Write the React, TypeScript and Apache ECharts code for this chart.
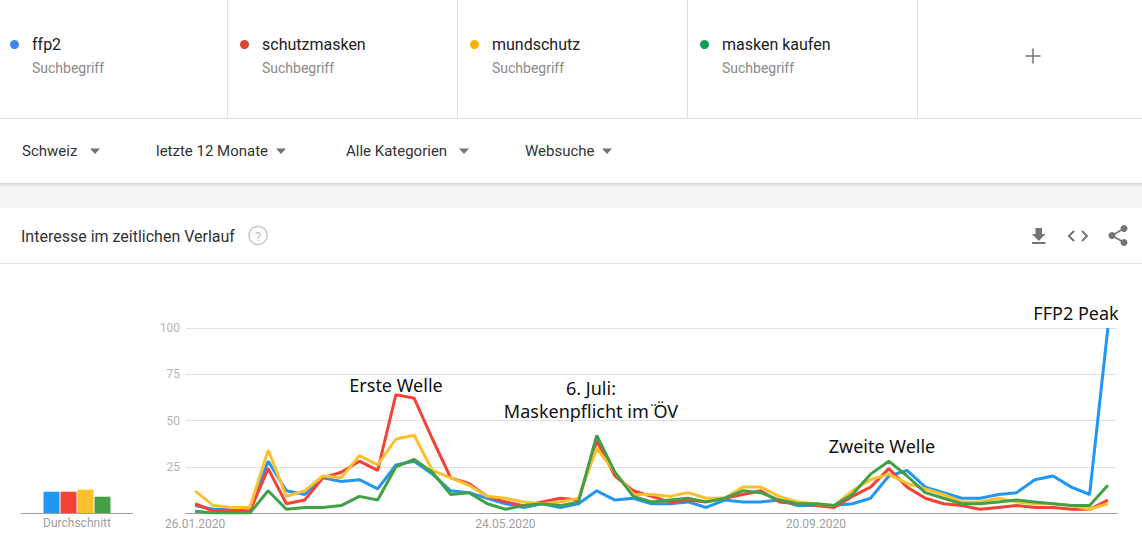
import React, { useEffect, useRef } from "react";
import * as echarts from "echarts";

const categories = [
  "26.01.2020", "02.02.2020", "09.02.2020", "16.02.2020", "23.02.2020", "01.03.2020", "08.03.2020",
  "15.03.2020", "22.03.2020", "29.03.2020", "05.04.2020", "12.04.2020", "19.04.2020", "26.04.2020",
  "03.05.2020", "10.05.2020", "17.05.2020", "24.05.2020", "31.05.2020", "07.06.2020", "14.06.2020",
  "21.06.2020", "28.06.2020", "05.07.2020", "12.07.2020", "19.07.2020", "26.07.2020", "02.08.2020",
  "09.08.2020", "16.08.2020", "23.08.2020", "30.08.2020", "06.09.2020", "13.09.2020", "20.09.2020",
  "27.09.2020", "04.10.2020", "11.10.2020", "18.10.2020", "25.10.2020", "01.11.2020", "08.11.2020",
  "15.11.2020", "22.11.2020", "29.11.2020", "06.12.2020", "13.12.2020", "20.12.2020", "27.12.2020",
  "03.01.2021", "10.01.2021",
];

const terms = ["ffp2", "schutzmasken", "mundschutz", "masken kaufen"];
const termSubtitle = "Suchbegriff";
const filters = ["Schweiz", "letzte 12 Monate", "Alle Kategorien", "Websuche"];
const cardTitle = "Interesse im zeitlichen Verlauf";
const averageLabel = "Durchschnitt";

const ffp2 = [4, 2, 2, 1, 28, 12, 10, 19, 17, 18, 13, 26, 28, 21, 12, 11, 8, 5, 3, 5, 3, 5, 12, 7, 8, 5, 5, 6, 3, 7, 6, 6, 7, 4, 4, 4, 5, 8, 20, 23, 14, 11, 8, 8, 10, 11, 18, 20, 14, 10, 100];
const schutzmasken = [5, 1, 1, 1, 24, 5, 7, 19, 22, 28, 23, 64, 62, 40, 19, 16, 9, 6, 4, 6, 8, 7, 39, 20, 12, 9, 6, 7, 6, 8, 10, 12, 6, 5, 4, 3, 9, 14, 24, 14, 8, 5, 4, 2, 3, 4, 3, 3, 2, 2, 7];
const mundschutz = [12, 4, 3, 3, 34, 9, 12, 20, 19, 31, 26, 40, 42, 23, 19, 15, 9, 8, 6, 5, 6, 8, 35, 22, 10, 10, 9, 11, 8, 8, 14, 14, 9, 6, 5, 4, 12, 18, 21, 16, 13, 10, 6, 6, 8, 6, 5, 5, 4, 2, 5];
const maskenKaufen = [1, 0, 0, 0, 12, 2, 3, 3, 4, 9, 7, 25, 29, 22, 10, 11, 5, 2, 4, 5, 4, 6, 42, 22, 9, 6, 7, 8, 6, 8, 12, 11, 7, 5, 5, 4, 10, 21, 28, 20, 11, 8, 5, 5, 6, 7, 6, 5, 4, 4, 15];
const averages = [11.5, 11.5, 12.6, 8.8];

const annotations = [
  { text: "Erste Welle", x: 396, y: 385 },
  { text: "6. Juli:", x: 591, y: 388 },
  { text: "Maskenpflicht im \u0308ÖV", x: 591, y: 411 },
  { text: "Zweite Welle", x: 882, y: 446 },
  { text: "FFP2 Peak", x: 1076, y: 313 },
];

const lineColors = ["#2196f3", "#f44336", "#fbc02d", "#43a047"];
const dotColors = ["#4285f4", "#db4437", "#f4b400", "#0f9d58"];

export default function App() {
  const ref = useRef<HTMLDivElement>(null);

  useEffect(() => {
    if (!ref.current) return;
    const chart = echarts.init(ref.current, undefined, { renderer: "svg" });
    const seriesData = [ffp2, schutzmasken, mundschutz, maskenKaufen];
    const icon = "#757575";

    const graphic: any[] = [];
    // header
    graphic.push({ type: "line", shape: { x1: 0, y1: 118.5, x2: 1142, y2: 118.5 }, style: { stroke: "#e0e0e0", lineWidth: 1 } });
    [227.5, 457.5, 687.5, 917.5].forEach((x) =>
      graphic.push({ type: "line", shape: { x1: x, y1: 0, x2: x, y2: 118 }, style: { stroke: "#e0e0e0", lineWidth: 1 } })
    );
    terms.forEach((t, i) => {
      const bx = 230 * i;
      graphic.push({ type: "circle", shape: { cx: bx + 14.5, cy: 44.5, r: 4.5 }, style: { fill: dotColors[i] } });
      graphic.push({ type: "text", style: { text: t, x: bx + 32, y: 44, textVerticalAlign: "middle", fontSize: 16, fontFamily: "Roboto", fill: "#202124" } });
      graphic.push({ type: "text", style: { text: termSubtitle, x: bx + 32, y: 68, textVerticalAlign: "middle", fontSize: 14, fontFamily: "Roboto", fill: "#8a8a8a" } });
    });
    graphic.push({ type: "line", shape: { x1: 1025.5, y1: 56, x2: 1040.5, y2: 56 }, style: { stroke: icon, lineWidth: 1.5 } });
    graphic.push({ type: "line", shape: { x1: 1033, y1: 48.5, x2: 1033, y2: 63.5 }, style: { stroke: icon, lineWidth: 1.5 } });

    // filter row
    const filterX = [22, 156, 346, 525];
    const triX = [95, 281, 464, 607];
    filters.forEach((f, i) => {
      graphic.push({ type: "text", style: { text: f, x: filterX[i], y: 151, textVerticalAlign: "middle", fontSize: 15, fontFamily: "Roboto", fill: "#333333" } });
      const c = triX[i];
      graphic.push({ type: "polygon", shape: { points: [[c - 5, 148.5], [c + 5, 148.5], [c, 154]] }, style: { fill: icon } });
    });
    graphic.push({ type: "rect", shape: { x: 0, y: 183, width: 1142, height: 25 }, style: { fill: "#f5f5f5" } });
    graphic.push({
      type: "rect",
      shape: { x: 0, y: 183, width: 1142, height: 4 },
      style: {
        fill: new echarts.graphic.LinearGradient(0, 0, 0, 1, [
          { offset: 0, color: "#d2d2d2" },
          { offset: 1, color: "#f5f5f5" },
        ]),
      },
    });

    // card title
    graphic.push({ type: "text", style: { text: cardTitle, x: 21, y: 236, textVerticalAlign: "middle", fontSize: 16, fontFamily: "Roboto", fill: "#333333" } });
    graphic.push({ type: "circle", shape: { cx: 258, cy: 235.5, r: 9 }, style: { fill: "none", stroke: "#c8c8c8", lineWidth: 1.5 } });
    graphic.push({ type: "text", style: { text: "?", x: 258, y: 236, textAlign: "center", textVerticalAlign: "middle", fontSize: 13, fontFamily: "Roboto", fill: "#c0c0c0" } });
    graphic.push({ type: "line", shape: { x1: 0, y1: 263.5, x2: 1142, y2: 263.5 }, style: { stroke: "#e0e0e0", lineWidth: 1 } });

    // icons
    graphic.push({
      type: "polygon",
      shape: { points: [[1035.5, 228], [1042, 228], [1042, 234], [1045.5, 234], [1038.75, 241], [1032, 234], [1035.5, 234]] },
      style: { fill: icon },
    });
    graphic.push({ type: "rect", shape: { x: 1032, y: 242, width: 13.5, height: 2 }, style: { fill: icon } });
    graphic.push({ type: "polyline", shape: { points: [[1074, 231], [1069, 236], [1074, 241]] }, style: { stroke: icon, lineWidth: 2, fill: "none" } });
    graphic.push({ type: "polyline", shape: { points: [[1082, 231], [1087, 236], [1082, 241]] }, style: { stroke: icon, lineWidth: 2, fill: "none" } });
    graphic.push({ type: "line", shape: { x1: 1112, y1: 235.5, x2: 1124, y2: 228.5 }, style: { stroke: icon, lineWidth: 1.5 } });
    graphic.push({ type: "line", shape: { x1: 1112, y1: 235.5, x2: 1124, y2: 242.5 }, style: { stroke: icon, lineWidth: 1.5 } });
    [[1124, 228.5], [1112, 235.5], [1124, 242.5]].forEach(([cx, cy]) =>
      graphic.push({ type: "circle", shape: { cx, cy, r: 3.5 }, style: { fill: icon } })
    );

    // average bars baseline + label
    graphic.push({ type: "line", shape: { x1: 21, y1: 513.5, x2: 133, y2: 513.5 }, style: { stroke: "#9e9e9e", lineWidth: 1 } });
    graphic.push({ type: "text", style: { text: averageLabel, x: 77, y: 523, textAlign: "center", textVerticalAlign: "middle", fontSize: 12, fontFamily: "Roboto", fill: "#9e9e9e" } });

    // annotations
    annotations.forEach((a) =>
      graphic.push({
        type: "text",
        z: 100,
        style: { text: a.text, x: a.x, y: a.y, textAlign: "center", textVerticalAlign: "middle", fontSize: 18, fontFamily: "Noto Sans", fill: "#111111" },
      })
    );

    chart.setOption({
      animation: false,
      backgroundColor: "#ffffff",
      grid: [
        { left: 186, top: 328, width: 931, height: 185 },
        { left: 43, top: 328, width: 68, height: 185 },
      ],
      xAxis: [
        {
          type: "category",
          gridIndex: 0,
          data: categories,
          boundaryGap: true,
          axisLine: { lineStyle: { color: "#9e9e9e", width: 1 } },
          axisTick: { show: false },
          axisLabel: { interval: 16, color: "#a0a0a0", fontSize: 12, fontFamily: "Roboto", margin: 5 },
          splitLine: { show: false },
        },
        { type: "category", gridIndex: 1, data: terms, show: false },
      ],
      yAxis: [
        {
          type: "value",
          gridIndex: 0,
          min: 0,
          max: 100,
          interval: 25,
          axisLine: { show: false },
          axisTick: { show: false },
          splitLine: { lineStyle: { color: "#e0e0e0", width: 1 } },
          axisLabel: {
            color: "#b4b4b4",
            fontSize: 12,
            fontFamily: "Roboto",
            margin: 6,
            formatter: (v: number) => (v === 0 ? "" : String(v)),
          },
        },
        { type: "value", gridIndex: 1, min: 0, max: 100, show: false },
      ],
      series: [
        ...terms.map((t, i) => ({
          name: t,
          type: "line",
          xAxisIndex: 0,
          yAxisIndex: 0,
          data: seriesData[i],
          showSymbol: false,
          symbol: "none",
          smooth: false,
          lineStyle: { width: 3, color: lineColors[i] },
          itemStyle: { color: lineColors[i] },
          z: 2 + i,
        })),
        {
          name: averageLabel,
          type: "bar",
          xAxisIndex: 1,
          yAxisIndex: 1,
          barWidth: 16,
          data: averages.map((v, i) => ({ value: v, itemStyle: { color: lineColors[i] } })),
        },
      ],
      graphic,
    });
    return () => chart.dispose();
  }, []);

  return <div ref={ref} style={{ position: "absolute", left: 0, top: 0, width: 1142, height: 560 }} />;
}
